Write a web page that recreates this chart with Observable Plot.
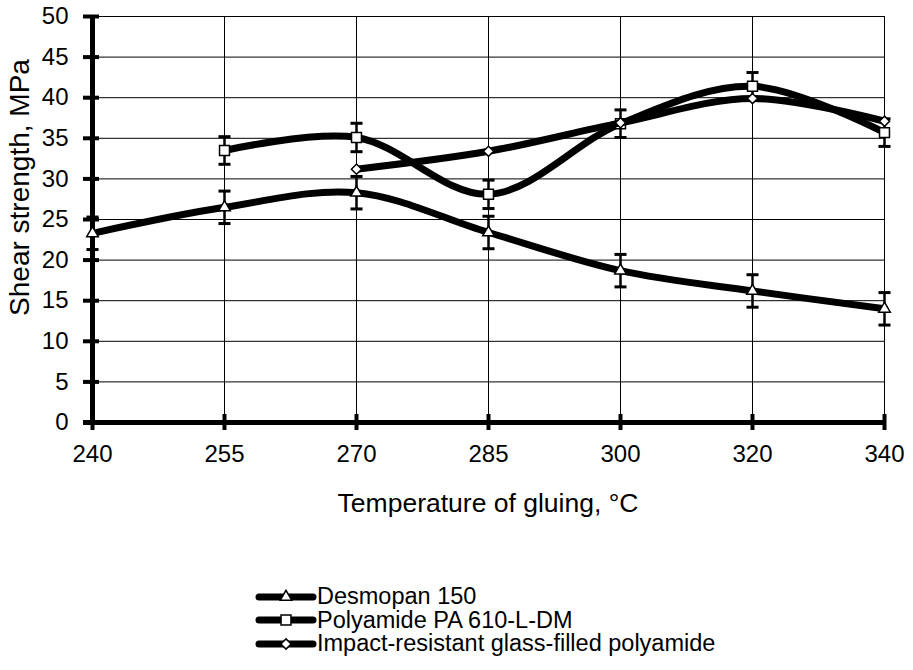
<!DOCTYPE html>
<html>
<head>
<meta charset="utf-8">
<script src="https://cdn.jsdelivr.net/npm/d3@7"></script>
<script src="https://cdn.jsdelivr.net/npm/@observablehq/plot@0.6"></script>
<style>
  html, body { margin: 0; padding: 0; background: #fff; }
  body { width: 913px; height: 670px; overflow: hidden; font-family: "Liberation Sans", Arial, sans-serif; }
  #legend { margin-left: 255px; margin-top: 55px; font-size: 23.5px; color: #000; }
  #legend .row { display: flex; align-items: center; height: 23.5px; white-space: nowrap; }
  #legend svg { display: block; flex: none; }
</style>
</head>
<body>
<div id="chart"></div>
<div id="legend"></div>
<script>
// Gluing temperatures (°C), treated as evenly spaced categories
const temps = [240, 255, 270, 285, 300, 320, 340];

// Shear strength (MPa) per adhesive; null = not measured
const desmopan    = [23.3, 26.5, 28.3, 23.4, 18.7, 16.2, 14.0];
const desmopanErr = [2.0, 2.0, 2.0, 2.0, 2.0, 2.0, 2.0];
const pa610       = [null, 33.5, 35.1, 28.1, 36.8, 41.4, 35.7];
const pa610Err    = [null, 1.7, 1.75, 1.75, 1.7, 1.7, 1.7];
const impact      = [null, null, 31.2, 33.4, 36.9, 39.9, 37.1];

const seriesNames = ["Desmopan 150", "Polyamide PA 610-L-DM", "Impact-resistant glass-filled polyamide"];
const seriesSymbols = ["triangle", "square", "diamond2"];
const seriesRadius = [4.3, 5.6, 4.6];

const yTicks = d3.range(0, 51, 5);

const xTitle = "Temperature of gluing, °C";
const yTitle = "Shear strength, MPa";

function rows(values, errs) {
  return temps
    .map((t, i) => ({t, v: values[i], e: errs ? errs[i] : null}))
    .filter(d => d.v != null);
}

const sets = [rows(desmopan, desmopanErr), rows(pa610, pa610Err), rows(impact, null)];

// Flat cap drawn at both ends of each error bar
const capSymbol = {
  draw(ctx, size) {
    const w = Math.sqrt(size);
    ctx.moveTo(-w, 0);
    ctx.lineTo(w, 0);
  }
};

const marks = [
  Plot.gridY(yTicks, {stroke: "#000", strokeOpacity: 1, strokeWidth: 1}),
  Plot.gridX(temps, {stroke: "#000", strokeOpacity: 1, strokeWidth: 1}),
  // crossing tick marks on both axes
  Plot.axisY(yTicks, {tickSize: 16, dx: 8, strokeWidth: 4, stroke: "#000", text: null, label: null}),
  Plot.axisX(temps, {tickSize: 16, dy: -8, strokeWidth: 4, stroke: "#000", text: null, label: null}),
  Plot.axisY(yTicks, {tickSize: 0, tickPadding: 23, fontSize: 24, label: null}),
  Plot.axisX(temps, {tickSize: 0, tickPadding: 22, fontSize: 24, label: null}),
  Plot.ruleX([temps[0]], {stroke: "#000", strokeWidth: 5}),
  Plot.ruleY([0], {stroke: "#000", strokeWidth: 5, insetLeft: -8}),
  Plot.text([xTitle], {frameAnchor: "bottom", dy: 81, lineAnchor: "middle", textAnchor: "middle", fontSize: 26.5, fill: "#000"}),
  Plot.text([yTitle], {frameAnchor: "left", rotate: -90, dx: -71, dy: -32, lineAnchor: "middle", textAnchor: "middle", fontSize: 28, fill: "#000"})
];

sets.forEach((data, k) => {
  marks.push(
    Plot.line(data, {x: "t", y: "v", curve: "catmull-rom", stroke: "#000", strokeWidth: 7, strokeLinejoin: "round"})
  );
  const withErr = data.filter(d => d.e != null);
  if (withErr.length) {
    marks.push(
      Plot.ruleX(withErr, {x: "t", y1: d => d.v - d.e, y2: d => d.v + d.e, stroke: "#000", strokeWidth: 2.5}),
      Plot.dot(withErr, {x: "t", y: d => d.v + d.e, symbol: capSymbol, r: 3.4, stroke: "#000", strokeWidth: 3}),
      Plot.dot(withErr, {x: "t", y: d => d.v - d.e, symbol: capSymbol, r: 3.4, stroke: "#000", strokeWidth: 3})
    );
  }
  marks.push(
    Plot.dot(data, {x: "t", y: "v", symbol: seriesSymbols[k], r: seriesRadius[k], fill: "#fff", stroke: "#000", strokeWidth: 1.5})
  );
});

const chart = Plot.plot({
  width: 913,
  height: 530,
  marginLeft: 91,
  marginRight: 29,
  marginTop: 16,
  marginBottom: 108,
  style: {fontFamily: "'Liberation Sans', Arial, sans-serif", fontSize: "24px", color: "#000", background: "#fff"},
  x: {type: "point", domain: temps, padding: 0, axis: null},
  y: {domain: [0, 50], axis: null},
  marks
});
document.getElementById("chart").appendChild(chart);

// Legend: thick line swatch with the series marker, then the name
const legend = d3.select("#legend");
const legendSymbols = [d3.symbolTriangle, d3.symbolSquare, d3.symbolDiamond2];
seriesNames.forEach((name, k) => {
  const row = legend.append("div").attr("class", "row");
  const svg = row.append("svg").attr("width", 62).attr("height", 16);
  svg.append("line")
    .attr("x1", 4).attr("x2", 58).attr("y1", 8).attr("y2", 8)
    .attr("stroke", "#000").attr("stroke-width", 7).attr("stroke-linecap", "round");
  svg.append("path")
    .attr("transform", "translate(31,8)")
    .attr("d", d3.symbol(legendSymbols[k], Math.PI * seriesRadius[k] ** 2)())
    .attr("fill", "#fff").attr("stroke", "#000").attr("stroke-width", 1.5);
  row.append("span").text(name);
});
</script>
</body>
</html>
